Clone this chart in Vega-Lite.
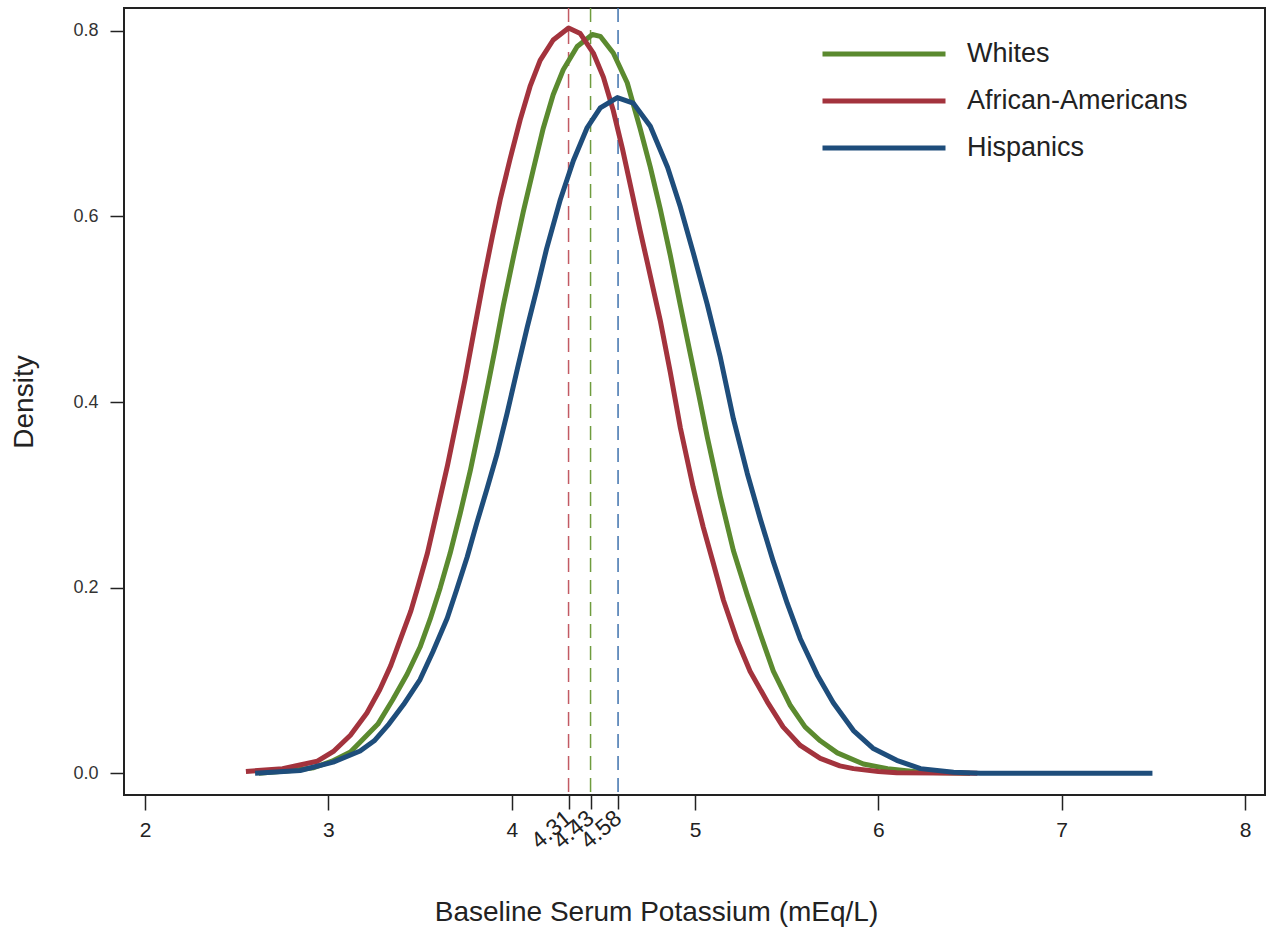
{
  "$schema": "https://vega.github.io/schema/vega-lite/v6.json",
  "width": 1141,
  "height": 787,
  "autosize": {"type": "none"},
  "padding": {"left": 124, "top": 8, "right": 9, "bottom": 136},
  "background": "white",
  "config": {
    "font": "Liberation Sans",
    "view": {"stroke": "#222222", "strokeWidth": 2},
    "axis": {"grid": false, "domain": false, "tickColor": "#222222", "tickWidth": 1.5, "labelOverlap": false, "labelFlush": false, "labelBound": false}
  },
  "datasets": {
    "curves": [
      {"group": "Whites", "potassium": 2.62, "density": 0.000},
      {"group": "Whites", "potassium": 2.80, "density": 0.003},
      {"group": "Whites", "potassium": 2.92, "density": 0.006},
      {"group": "Whites", "potassium": 3.02, "density": 0.013},
      {"group": "Whites", "potassium": 3.12, "density": 0.023},
      {"group": "Whites", "potassium": 3.17, "density": 0.033},
      {"group": "Whites", "potassium": 3.27, "density": 0.053},
      {"group": "Whites", "potassium": 3.35, "density": 0.079},
      {"group": "Whites", "potassium": 3.43, "density": 0.107},
      {"group": "Whites", "potassium": 3.50, "density": 0.136},
      {"group": "Whites", "potassium": 3.555, "density": 0.166},
      {"group": "Whites", "potassium": 3.61, "density": 0.200},
      {"group": "Whites", "potassium": 3.664, "density": 0.237},
      {"group": "Whites", "potassium": 3.719, "density": 0.280},
      {"group": "Whites", "potassium": 3.774, "density": 0.326},
      {"group": "Whites", "potassium": 3.828, "density": 0.377},
      {"group": "Whites", "potassium": 3.872, "density": 0.420},
      {"group": "Whites", "potassium": 3.91, "density": 0.458},
      {"group": "Whites", "potassium": 3.954, "density": 0.504},
      {"group": "Whites", "potassium": 4.008, "density": 0.555},
      {"group": "Whites", "potassium": 4.063, "density": 0.605},
      {"group": "Whites", "potassium": 4.117, "density": 0.650},
      {"group": "Whites", "potassium": 4.172, "density": 0.695},
      {"group": "Whites", "potassium": 4.226, "density": 0.731},
      {"group": "Whites", "potassium": 4.281, "density": 0.758},
      {"group": "Whites", "potassium": 4.357, "density": 0.783},
      {"group": "Whites", "potassium": 4.44, "density": 0.796},
      {"group": "Whites", "potassium": 4.483, "density": 0.794},
      {"group": "Whites", "potassium": 4.554, "density": 0.776},
      {"group": "Whites", "potassium": 4.63, "density": 0.744},
      {"group": "Whites", "potassium": 4.70, "density": 0.695},
      {"group": "Whites", "potassium": 4.756, "density": 0.653},
      {"group": "Whites", "potassium": 4.81, "density": 0.608},
      {"group": "Whites", "potassium": 4.865, "density": 0.558},
      {"group": "Whites", "potassium": 4.92, "density": 0.504},
      {"group": "Whites", "potassium": 4.974, "density": 0.452},
      {"group": "Whites", "potassium": 5.02, "density": 0.408},
      {"group": "Whites", "potassium": 5.067, "density": 0.362},
      {"group": "Whites", "potassium": 5.138, "density": 0.298},
      {"group": "Whites", "potassium": 5.209, "density": 0.240},
      {"group": "Whites", "potassium": 5.285, "density": 0.192},
      {"group": "Whites", "potassium": 5.356, "density": 0.150},
      {"group": "Whites", "potassium": 5.427, "density": 0.110},
      {"group": "Whites", "potassium": 5.52, "density": 0.073},
      {"group": "Whites", "potassium": 5.60, "density": 0.050},
      {"group": "Whites", "potassium": 5.683, "density": 0.035},
      {"group": "Whites", "potassium": 5.776, "density": 0.022},
      {"group": "Whites", "potassium": 5.918, "density": 0.010},
      {"group": "Whites", "potassium": 6.05, "density": 0.005},
      {"group": "Whites", "potassium": 6.23, "density": 0.001},
      {"group": "Whites", "potassium": 6.50, "density": 0.000},

      {"group": "African-Americans", "potassium": 2.55, "density": 0.002},
      {"group": "African-Americans", "potassium": 2.75, "density": 0.005},
      {"group": "African-Americans", "potassium": 2.94, "density": 0.013},
      {"group": "African-Americans", "potassium": 3.03, "density": 0.024},
      {"group": "African-Americans", "potassium": 3.12, "density": 0.041},
      {"group": "African-Americans", "potassium": 3.21, "density": 0.065},
      {"group": "African-Americans", "potassium": 3.28, "density": 0.090},
      {"group": "African-Americans", "potassium": 3.34, "density": 0.116},
      {"group": "African-Americans", "potassium": 3.39, "density": 0.143},
      {"group": "African-Americans", "potassium": 3.45, "density": 0.175},
      {"group": "African-Americans", "potassium": 3.49, "density": 0.202},
      {"group": "African-Americans", "potassium": 3.54, "density": 0.237},
      {"group": "African-Americans", "potassium": 3.59, "density": 0.280},
      {"group": "African-Americans", "potassium": 3.65, "density": 0.332},
      {"group": "African-Americans", "potassium": 3.70, "density": 0.380},
      {"group": "African-Americans", "potassium": 3.745, "density": 0.424},
      {"group": "African-Americans", "potassium": 3.79, "density": 0.472},
      {"group": "African-Americans", "potassium": 3.845, "density": 0.530},
      {"group": "African-Americans", "potassium": 3.894, "density": 0.578},
      {"group": "African-Americans", "potassium": 3.937, "density": 0.618},
      {"group": "African-Americans", "potassium": 3.99, "density": 0.661},
      {"group": "African-Americans", "potassium": 4.046, "density": 0.704},
      {"group": "African-Americans", "potassium": 4.10, "density": 0.740},
      {"group": "African-Americans", "potassium": 4.155, "density": 0.768},
      {"group": "African-Americans", "potassium": 4.226, "density": 0.790},
      {"group": "African-Americans", "potassium": 4.31, "density": 0.803},
      {"group": "African-Americans", "potassium": 4.374, "density": 0.797},
      {"group": "African-Americans", "potassium": 4.445, "density": 0.776},
      {"group": "African-Americans", "potassium": 4.50, "density": 0.750},
      {"group": "African-Americans", "potassium": 4.554, "density": 0.714},
      {"group": "African-Americans", "potassium": 4.605, "density": 0.672},
      {"group": "African-Americans", "potassium": 4.66, "density": 0.622},
      {"group": "African-Americans", "potassium": 4.70, "density": 0.585},
      {"group": "African-Americans", "potassium": 4.74, "density": 0.550},
      {"group": "African-Americans", "potassium": 4.81, "density": 0.488},
      {"group": "African-Americans", "potassium": 4.865, "density": 0.432},
      {"group": "African-Americans", "potassium": 4.92, "density": 0.372},
      {"group": "African-Americans", "potassium": 4.99, "density": 0.308},
      {"group": "African-Americans", "potassium": 5.045, "density": 0.265},
      {"group": "African-Americans", "potassium": 5.10, "density": 0.226},
      {"group": "African-Americans", "potassium": 5.154, "density": 0.187},
      {"group": "African-Americans", "potassium": 5.23, "density": 0.143},
      {"group": "African-Americans", "potassium": 5.30, "density": 0.110},
      {"group": "African-Americans", "potassium": 5.394, "density": 0.077},
      {"group": "African-Americans", "potassium": 5.48, "density": 0.050},
      {"group": "African-Americans", "potassium": 5.574, "density": 0.030},
      {"group": "African-Americans", "potassium": 5.683, "density": 0.016},
      {"group": "African-Americans", "potassium": 5.79, "density": 0.008},
      {"group": "African-Americans", "potassium": 5.864, "density": 0.005},
      {"group": "African-Americans", "potassium": 6.00, "density": 0.002},
      {"group": "African-Americans", "potassium": 6.10, "density": 0.0005},
      {"group": "African-Americans", "potassium": 6.54, "density": 0.000},

      {"group": "Hispanics", "potassium": 2.60, "density": 0.000},
      {"group": "Hispanics", "potassium": 2.846, "density": 0.003},
      {"group": "Hispanics", "potassium": 3.026, "density": 0.012},
      {"group": "Hispanics", "potassium": 3.173, "density": 0.024},
      {"group": "Hispanics", "potassium": 3.25, "density": 0.035},
      {"group": "Hispanics", "potassium": 3.33, "density": 0.053},
      {"group": "Hispanics", "potassium": 3.41, "density": 0.074},
      {"group": "Hispanics", "potassium": 3.50, "density": 0.101},
      {"group": "Hispanics", "potassium": 3.57, "density": 0.131},
      {"group": "Hispanics", "potassium": 3.648, "density": 0.167},
      {"group": "Hispanics", "potassium": 3.70, "density": 0.198},
      {"group": "Hispanics", "potassium": 3.757, "density": 0.233},
      {"group": "Hispanics", "potassium": 3.81, "density": 0.270},
      {"group": "Hispanics", "potassium": 3.866, "density": 0.307},
      {"group": "Hispanics", "potassium": 3.92, "density": 0.344},
      {"group": "Hispanics", "potassium": 3.975, "density": 0.388},
      {"group": "Hispanics", "potassium": 4.03, "density": 0.435},
      {"group": "Hispanics", "potassium": 4.085, "density": 0.481},
      {"group": "Hispanics", "potassium": 4.14, "density": 0.524},
      {"group": "Hispanics", "potassium": 4.19, "density": 0.565},
      {"group": "Hispanics", "potassium": 4.265, "density": 0.618},
      {"group": "Hispanics", "potassium": 4.336, "density": 0.660},
      {"group": "Hispanics", "potassium": 4.41, "density": 0.695},
      {"group": "Hispanics", "potassium": 4.483, "density": 0.717},
      {"group": "Hispanics", "potassium": 4.576, "density": 0.728},
      {"group": "Hispanics", "potassium": 4.663, "density": 0.722},
      {"group": "Hispanics", "potassium": 4.756, "density": 0.697},
      {"group": "Hispanics", "potassium": 4.85, "density": 0.653},
      {"group": "Hispanics", "potassium": 4.92, "density": 0.610},
      {"group": "Hispanics", "potassium": 4.99, "density": 0.561},
      {"group": "Hispanics", "potassium": 5.067, "density": 0.505},
      {"group": "Hispanics", "potassium": 5.138, "density": 0.448},
      {"group": "Hispanics", "potassium": 5.209, "density": 0.382},
      {"group": "Hispanics", "potassium": 5.285, "density": 0.323},
      {"group": "Hispanics", "potassium": 5.356, "density": 0.274},
      {"group": "Hispanics", "potassium": 5.427, "density": 0.228},
      {"group": "Hispanics", "potassium": 5.503, "density": 0.183},
      {"group": "Hispanics", "potassium": 5.574, "density": 0.145},
      {"group": "Hispanics", "potassium": 5.667, "density": 0.106},
      {"group": "Hispanics", "potassium": 5.754, "density": 0.076},
      {"group": "Hispanics", "potassium": 5.864, "density": 0.046},
      {"group": "Hispanics", "potassium": 5.97, "density": 0.027},
      {"group": "Hispanics", "potassium": 6.10, "density": 0.014},
      {"group": "Hispanics", "potassium": 6.23, "density": 0.005},
      {"group": "Hispanics", "potassium": 6.41, "density": 0.001},
      {"group": "Hispanics", "potassium": 6.556, "density": 0.000},
      {"group": "Hispanics", "potassium": 7.495, "density": 0.000}
    ],
    "means": [
      {"population": "African-Americans", "mean": 4.31},
      {"population": "Whites", "mean": 4.43},
      {"population": "Hispanics", "mean": 4.58}
    ]
  },
  "layer": [
    {
      "data": {"name": "means"},
      "mark": {"type": "rule", "strokeWidth": 1.5, "strokeDash": [14, 8]},
      "encoding": {
        "x": {
          "field": "mean", "type": "quantitative",
          "scale": {"domain": [1.885, 8.109], "nice": false, "zero": false},
          "axis": {
            "orient": "bottom", "values": [4.31, 4.43, 4.58], "format": ".2f",
            "title": null, "tickSize": 14, "labelAngle": -40, "labelAlign": "right", "labelBaseline": "middle",
            "labelPadding": 6, "labelFontSize": 23, "labelColor": "#222222"
          }
        },
        "stroke": {
          "field": "population", "type": "nominal",
          "scale": {"domain": ["African-Americans", "Whites", "Hispanics"], "range": ["#c25a63", "#6f9c3e", "#3f72ad"]},
          "legend": null
        }
      }
    },
    {
      "data": {"name": "curves"},
      "mark": {"type": "line", "strokeWidth": 5, "strokeJoin": "round"},
      "encoding": {
        "x": {
          "field": "potassium", "type": "quantitative",
          "scale": {"domain": [1.885, 8.109], "nice": false, "zero": false},
          "axis": {
            "orient": "bottom", "values": [2, 3, 4, 5, 6, 7, 8], "format": "d",
            "title": "Baseline Serum Potassium (mEq/L)", "titleFontSize": 28, "titleFontWeight": "normal", "titleColor": "#222222", "titlePadding": 58,
            "titleX": 532, "titleAlign": "center",
            "tickSize": 15, "labelPadding": 9, "labelFontSize": 21, "labelColor": "#222222"
          }
        },
        "y": {
          "field": "density", "type": "quantitative",
          "scale": {"domain": [-0.0234, 0.8245], "nice": false, "zero": false},
          "axis": {
            "values": [0, 0.2, 0.4, 0.6, 0.8], "format": ".1f",
            "title": "Density", "titleFontSize": 28, "titleFontWeight": "normal", "titleColor": "#222222", "titlePadding": 34,
            "tickSize": 14, "labelPadding": 12, "labelFontSize": 18, "labelColor": "#333333"
          }
        },
        "color": {
          "field": "group", "type": "nominal",
          "scale": {"domain": ["Whites", "African-Americans", "Hispanics"], "range": ["#5b8a2f", "#a3333d", "#1e4d7b"]},
          "legend": {
            "title": null, "orient": "none", "legendX": 737, "legendY": 23,
            "symbolType": "M-3,0H3", "symbolSize": 1681, "symbolStrokeWidth": 5,
            "labelFontSize": 27, "labelColor": "#222222", "labelOffset": 60, "labelLimit": 500, "rowPadding": 11, "padding": 0
          }
        }
      }
    }
  ],
  "resolve": {"scale": {"x": "shared"}, "axis": {"x": "independent"}}
}
